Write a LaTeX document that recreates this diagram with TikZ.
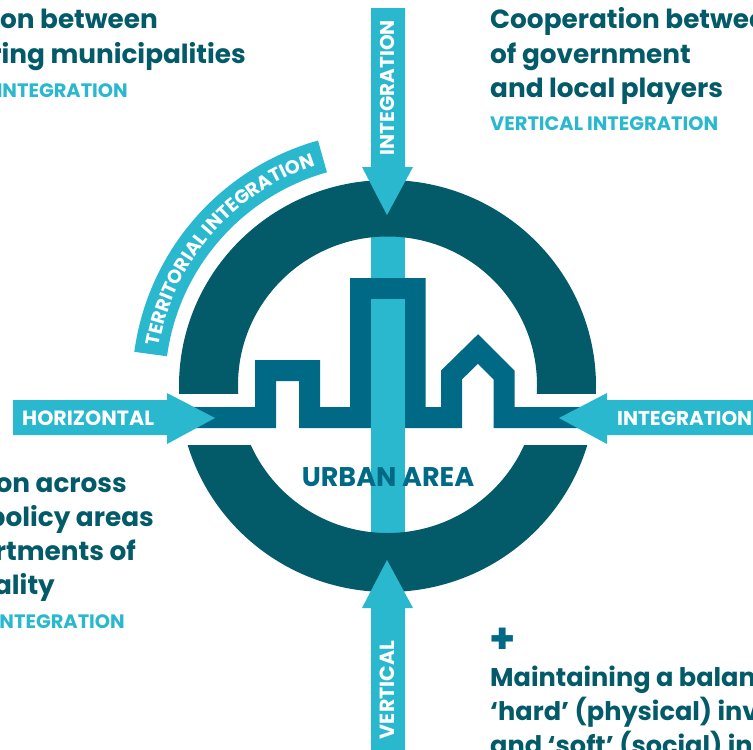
\documentclass[tikz,border=0pt]{standalone}
\usepackage{fontspec}
\setmainfont{Poppins}
\usetikzlibrary{decorations.text}
\definecolor{ring}{HTML}{035A68}
\definecolor{sky}{HTML}{006985}
\definecolor{cy}{HTML}{2AB8CF}
\tikzset{x=1pt,y=-1pt,
 headtext/.style={inner sep=0,text=ring,font=\fontsize{26.3}{30}\selectfont\bfseries},
 subtext/.style={inner sep=0,text=cy,font=\fontsize{19.4}{22}\selectfont\bfseries},
 arrowtext/.style={inner sep=0,text=white,font=\fontsize{20}{24}\selectfont\bfseries},
 arrowfill/.style={fill=cy,draw=none}}
\begin{document}
\begin{tikzpicture}
\useasboundingbox (0,0) rectangle (753,750);
\fill[white] (0,0) rectangle (753,750);
% centre bar behind ring
\fill[cy] (371,230) rectangle (405,540);
% ring
\begin{scope}
\clip (150,170) rectangle (620,393);
\fill[ring,even odd rule] (387.5,386) ellipse [x radius=208.5,y radius=206] (387.5,385) ellipse [x radius=149.5,y radius=148.5];
\end{scope}
\begin{scope}
\clip (150,445) rectangle (620,600);
\fill[ring,even odd rule] (387.5,386) ellipse [x radius=208.5,y radius=206] (387.5,385) ellipse [x radius=149.5,y radius=148];
\end{scope}
% skyline
\draw[sky,line width=21pt,miter limit=10] (190,417.5) -- (265.5,417.5) -- (265.5,370.5) -- (309.5,370.5) -- (309.5,417.5) -- (360.5,417.5) -- (360.5,288.5) -- (415,288.5) -- (415,417.5) -- (451.5,417.5) -- (451.5,375) -- (478,349) -- (504,375) -- (504,417.5) -- (580,417.5);
% bar over skyline
\fill[cy] (371,299) rectangle (405,532);
% arc label
\fill[cy] (387,386) ++(-172.3:255) arc[start angle=-172.3,end angle=-105.7,radius=255] -- ++(74.3:33) arc[start angle=-105.7,end angle=-172.3,radius=222] -- cycle;
\path[decorate,decoration={text along path,text align=center,
  text={|\fontsize{19}{22}\selectfont\bfseries\color{white}|TERRITORIAL INTEGRATION}}]
  (387,386) ++(-172.3:231.5) arc[start angle=-172.3,end angle=-105.7,radius=231.5];
% arrows
\fill[arrowfill] (371,8) -- (405,8) -- (405,167) -- (413,167) -- (387,215) -- (362,167) -- (371,167) -- cycle;
\fill[arrowfill] (13,400) -- (167,400) -- (167,393) -- (215,418) -- (167,444) -- (167,435) -- (13,435) -- cycle;
\fill[arrowfill] (753,400) -- (607,400) -- (607,393) -- (559,418) -- (607,444) -- (607,435) -- (753,435) -- cycle;
\fill[arrowfill] (371,750) -- (405,750) -- (405,608) -- (413,608) -- (387,560) -- (362,608) -- (371,608) -- cycle;
% arrow labels
\node[arrowtext,anchor=west,font=\fontsize{20.6}{24}\selectfont\bfseries] (lh) at (22,418.5) {HORIZONTAL};
\node[arrowtext,anchor=west] (lir) at (617,418.5) {INTEGRATION};
\node[arrowtext,rotate=90] (lit) at (387,87.5) {INTEGRATION};
\node[arrowtext,rotate=90,font=\fontsize{20.5}{24}\selectfont\bfseries] (lv) at (387,690) {VERTICAL};
% centre
\node[inner sep=0,text=sky,font=\fontsize{27}{30}\selectfont\bfseries] (ua) at (388,477.5) {URBAN AREA};
% top left
\node[headtext,anchor=base east] (a1) at (158,28.5) {on between};
\node[headtext,anchor=base east] (a2) at (246,63) {ring municipalities};
\node[subtext,anchor=base east] (a3) at (128,97) {INTEGRATION};
% top right
\node[headtext,anchor=base west] (b1) at (490,28.5) {Cooperation betwee};
\node[headtext,anchor=base west] (b2) at (490,63) {of government};
\node[headtext,anchor=base west] (b3) at (490,97.5) {and local players};
\node[subtext,anchor=base west] (b4) at (490,130) {VERTICAL INTEGRATION};
% bottom left
\node[headtext,anchor=base east] (c1) at (127,492.5) {on across};
\node[headtext,anchor=base east] (c2) at (154,526.5) {policy areas};
\node[headtext,anchor=base east] (c3) at (136,560.5) {rtments of};
\node[headtext,anchor=base east] (c4) at (55,594.5) {ality};
\node[subtext,anchor=base east] (c5) at (125,628) {INTEGRATION};
% bottom right
\node[inner sep=0,text=sky,font=\fontsize{42}{44}\selectfont\bfseries] (pl) at (503,641) {+};
\node[headtext,anchor=base west,font=\fontsize{25.6}{30}\selectfont\bfseries] (d1) at (490,686) {Maintaining a balan};
\node[headtext,anchor=base west,font=\fontsize{25.6}{30}\selectfont\bfseries] (d2) at (490,720) {‘hard’ (physical) inv};
\node[headtext,anchor=base west,font=\fontsize{25.6}{30}\selectfont\bfseries] (d3) at (490,754) {and ‘soft’ (social) in};
\end{tikzpicture}
\end{document}
